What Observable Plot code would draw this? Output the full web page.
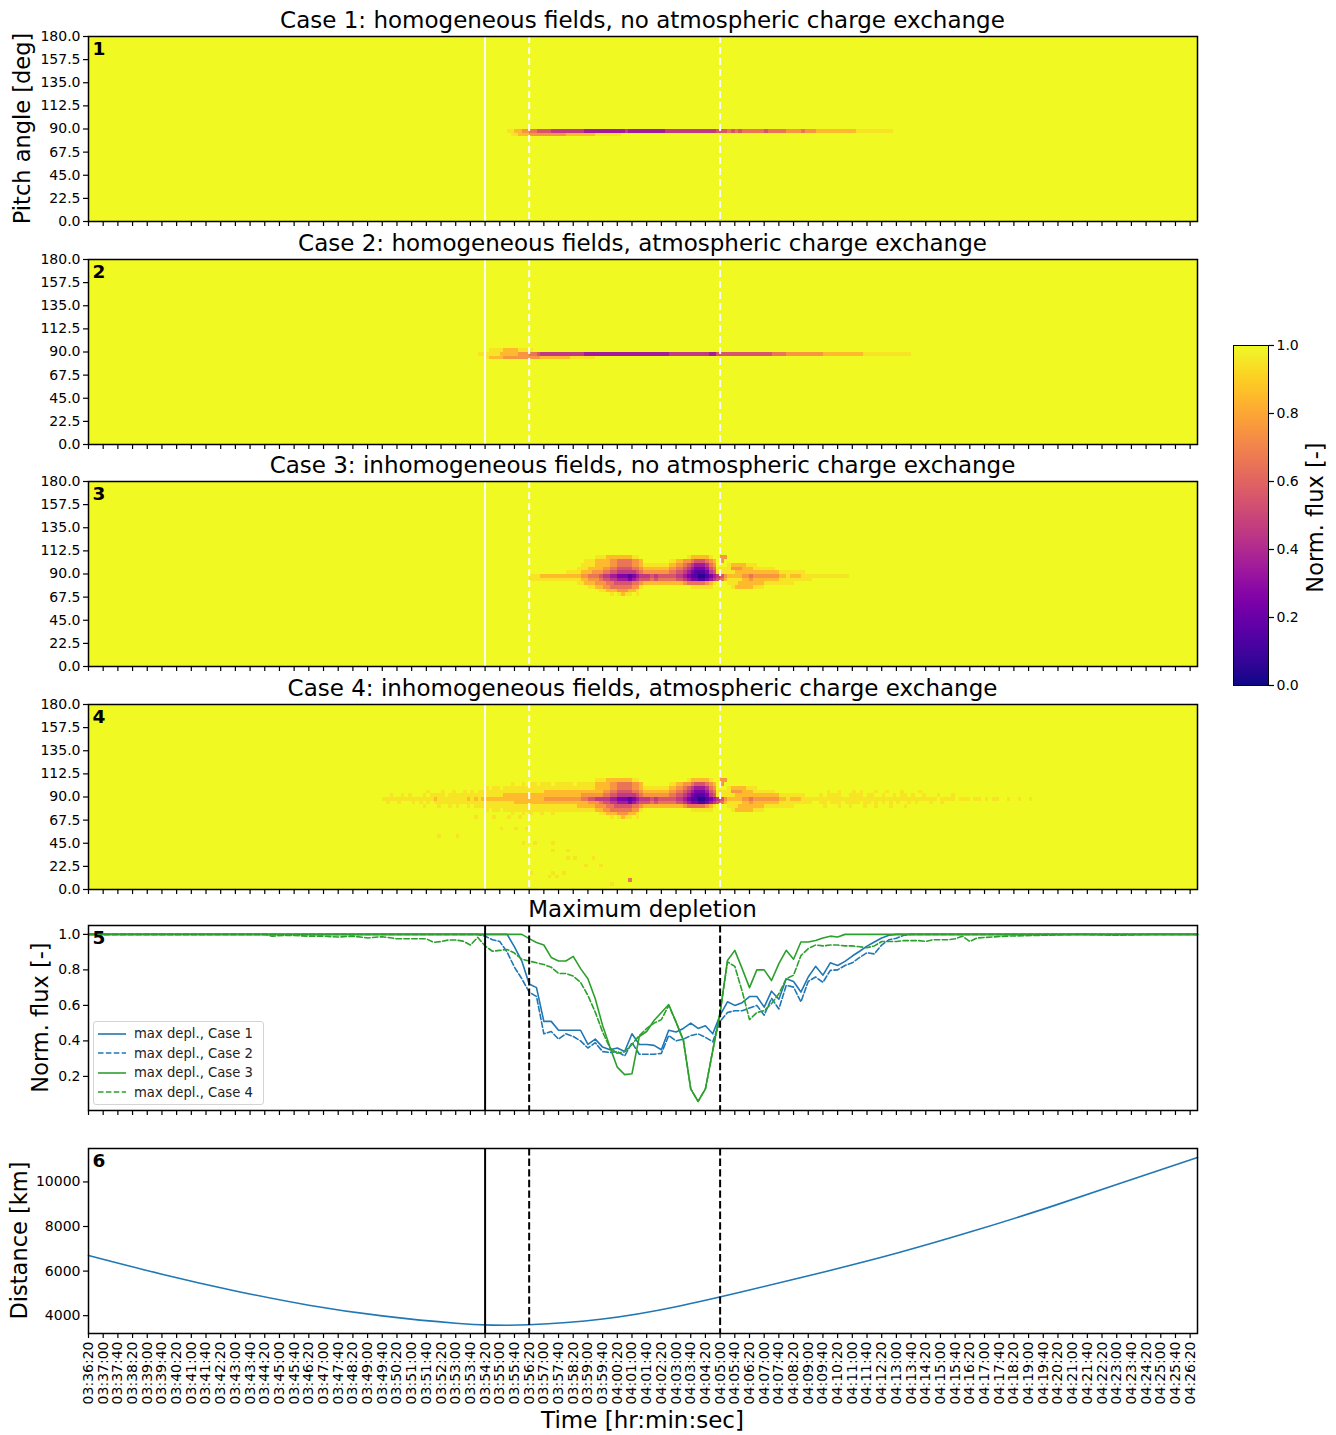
<!DOCTYPE html>
<html><head><meta charset="utf-8">
<script src="https://cdn.jsdelivr.net/npm/d3@7"></script>
<script src="https://cdn.jsdelivr.net/npm/@observablehq/plot@0.6"></script>
<style>
body{margin:0;background:#fff;}
#root{position:relative;width:1336px;height:1435px;overflow:hidden;background:#fff;font-family:"DejaVu Sans",sans-serif;}
#root > *{position:absolute;}
.legend{border:1px solid #d4d4d4;border-radius:3px;background:rgba(255,255,255,0.85);font-size:13.2px;color:#222;}
.legend div{height:19.5px;display:flex;align-items:center;white-space:nowrap;}
.legend svg{margin:0 7px 0 3px;}
</style></head><body><div id="root"></div>
<script>
// ---------- data ----------
const startClock = [3, 36, 20];           // 03:36:20 = time 0
const timeDomain = [0, 3020];             // seconds since start
const timeTicks = d3.range(0, 3001, 40);
const pitchTicks = [0, 22.5, 45, 67.5, 90, 112.5, 135, 157.5, 180];
const fluxTicks = [0.2, 0.4, 0.6, 0.8, 1.0];
const distTicks = [4000, 6000, 8000, 10000];
const colorTicks = [0, 0.2, 0.4, 0.6, 0.8, 1.0];
const eventSolid = [1080];
const eventDashed = [1200, 1720];
const timeBin = 10, pitchBin = 3.6;

const titles = [
  "Case 1: homogeneous fields, no atmospheric charge exchange",
  "Case 2: homogeneous fields, atmospheric charge exchange",
  "Case 3: inhomogeneous fields, no atmospheric charge exchange",
  "Case 4: inhomogeneous fields, atmospheric charge exchange",
  "Maximum depletion"
];

// heat-map rows: [pitch bin index, start time (s), cells of 10 s; digit d -> (d+0.5)/10, "." -> 1.0]
const case1Rows = [
  [24, 1140, "9988776655|5544444444|4333333333|3343333333|3334444444|4444444555|6565666666|5666667777|6777888888|8888899999|99999"],
  [23, 1150, "9988877777|7777788888|8889999999"]
];
const case2Rows = [
  [24, 1060, "9999998888|8777665444|4444444443|3333333333|3333333333|3344444444|4443355555|5555555555|6666777777|7777888888|8888899999|99999999"],
  [23, 1080, "9888877777|7777788888|8889999999"],
  [25, 1090, "9999888899|99"]
];
const case3Rows = [
  [29, 1380, "999888888899|..........|...9888889|..77"],
  [28, 1300, ".....99988|8877666677|8.......99|8877655567|8.7"],
  [27, 1300, "....999988|8877666677|8999999988|7765433346|7...988889|99"],
  [26, 1300, "...9998888|7766555566|7888888877|6654322235|6999977788|8999999"],
  [25, 1300, "9999888777|6655444445|6777777766|5543211124|5999998888|8888888899|99999"],
  [24, 1200, "9998888888|8888776665|4433222123|4445455555|4432110012|3457888877|6777777788|9888999999|9999999"],
  [23, 1200, "9999999999|9999887776|5544333234|5556566666|5543221123|4568999988|7888888899|9999999"],
  [22, 1300, "...9988877|7665555566|7888888888|8876666678|9...999888|8888999999|99"],
  [21, 1300, "......9988|7766666677|9.........|....999999|.....98888|8999"],
  [20, 1390, "99888777889|"],
  [19, 1420, "9.9899.9"]
];
const case4Extra = [
  [25, 800, "..9..9.9..|.9.9999.99|9999999999|9998888888|8888888888|8888777777"],
  [24, 800, "9999999999|9999899999|9998989888|8888888888|8888777777|7777665544"],
  [23, 800, ".9..9...9.|9.9.999999|9999999999|9999998888|8888888888|8888887777"],
  [26, 900, "..9...9..9|..9.9.9999|9999999999|9999888888|8888888888"],
  [22, 900, ".9...9..9.|9..9.99999|9999999999|9999999999|9998888888"],
  [27, 1060, "..9.99.999|9999999999|9999999999|9988"],
  [28, 1150, "9..9.99.99|9.99999.9|99"],
  [21, 1080, "9.99.99999|9999999999|99999999"],
  [20, 1150, "9..9.9..9.|.9"],
  [26, 1990, "..9..9...9|.9...9..9.|..9....9.."],
  [25, 1990, "9.9999..99|99.99..9..|9.99.9..9.|..9...9..."],
  [24, 1990, "9999999999|9999999999|9999999999|99.9999.99|9.99.9.99.|.9..9..9"],
  [23, 1990, "99.999.999|9.99.9.9.9|.9..9.9...|9..9"],
  [22, 1990, ".9...9..9.|..9..9...9|...9"],
  [19, 1050, "9....9...9|..9"], [16, 1120, "9...9..9"], [14, 950, "9....9"],
  [12, 1180, "9..9....9"], [10, 1260, "9...9"], [8, 1300, "9.9....9"],
  [6, 1350, "9...9"], [4, 1200, "9.....9..9"], [3, 1250, "9.9"], [2, 1470, "6"], [1, 1420, "9"]
];
const case4Rows = [...case3Rows, ...case4Extra];

// maximum depletion series: [time (s), normalised flux]
const depl1 = [[0,1],[1140,1],[1160,0.93],[1180,0.85],[1200,0.72],[1220,0.70],[1240,0.51],[1260,0.51],[1280,0.46],[1300,0.46],[1320,0.46],[1340,0.46],[1360,0.38],[1380,0.41],[1400,0.365],[1420,0.35],[1440,0.36],[1460,0.34],[1480,0.44],[1500,0.38],[1520,0.38],[1540,0.375],[1560,0.35],[1580,0.46],[1600,0.45],[1620,0.47],[1640,0.50],[1660,0.47],[1680,0.485],[1700,0.44],[1720,0.545],[1740,0.62],[1760,0.60],[1780,0.615],[1800,0.65],[1820,0.65],[1840,0.59],[1860,0.68],[1880,0.635],[1900,0.75],[1920,0.735],[1940,0.675],[1960,0.76],[1980,0.82],[2000,0.77],[2020,0.84],[2040,0.825],[2060,0.848],[2080,0.878],[2100,0.905],[2120,0.934],[2140,0.957],[2160,0.98],[2180,0.995],[2200,1],[3020,1]];
const depl2 = [[0,1],[1060,1],[1080,0.99],[1100,0.97],[1120,0.96],[1140,0.90],[1160,0.815],[1180,0.75],[1200,0.675],[1220,0.65],[1240,0.44],[1260,0.453],[1280,0.41],[1300,0.44],[1320,0.425],[1340,0.40],[1360,0.36],[1380,0.39],[1400,0.34],[1420,0.335],[1440,0.34],[1460,0.315],[1480,0.39],[1500,0.325],[1520,0.325],[1540,0.325],[1560,0.33],[1580,0.43],[1600,0.40],[1620,0.41],[1640,0.43],[1660,0.44],[1680,0.42],[1700,0.395],[1720,0.51],[1740,0.56],[1760,0.57],[1780,0.57],[1800,0.585],[1820,0.60],[1840,0.545],[1860,0.64],[1880,0.58],[1900,0.713],[1920,0.703],[1940,0.62],[1960,0.735],[1980,0.76],[2000,0.73],[2020,0.797],[2040,0.80],[2060,0.825],[2080,0.84],[2100,0.87],[2120,0.897],[2140,0.89],[2160,0.94],[2180,0.97],[2200,0.978],[2220,0.995],[2240,1],[3020,1]];
const depl3 = [[0,1],[1180,1],[1200,0.976],[1220,0.954],[1240,0.94],[1260,0.87],[1280,0.85],[1300,0.85],[1320,0.876],[1340,0.807],[1360,0.75],[1380,0.637],[1400,0.487],[1420,0.365],[1440,0.252],[1460,0.21],[1480,0.215],[1500,0.425],[1520,0.453],[1540,0.515],[1560,0.56],[1580,0.605],[1600,0.506],[1620,0.403],[1640,0.13],[1660,0.059],[1680,0.13],[1700,0.346],[1720,0.56],[1740,0.853],[1760,0.91],[1780,0.807],[1800,0.70],[1820,0.80],[1840,0.80],[1860,0.74],[1880,0.835],[1900,0.91],[1920,0.86],[1940,0.957],[1960,0.957],[1980,0.966],[2000,0.98],[2020,0.99],[2040,0.985],[2060,1],[3020,1]];
const depl4 = [[0,1],[480,1],[500,0.99],[540,0.995],[600,0.99],[640,0.99],[680,0.985],[720,0.99],[760,0.98],[800,0.987],[840,0.975],[880,0.975],[920,0.975],[940,0.955],[960,0.96],[980,0.968],[1000,0.968],[1020,0.962],[1040,0.94],[1060,0.983],[1080,0.935],[1100,0.905],[1120,0.91],[1140,0.915],[1160,0.895],[1180,0.86],[1200,0.85],[1220,0.84],[1240,0.83],[1260,0.815],[1280,0.78],[1300,0.78],[1320,0.765],[1340,0.73],[1360,0.656],[1380,0.562],[1400,0.45],[1420,0.36],[1440,0.33],[1460,0.34],[1480,0.38],[1500,0.43],[1520,0.47],[1540,0.50],[1560,0.52],[1580,0.60],[1600,0.506],[1620,0.403],[1640,0.13],[1660,0.059],[1680,0.13],[1700,0.346],[1720,0.56],[1740,0.845],[1760,0.82],[1780,0.68],[1800,0.52],[1820,0.56],[1840,0.57],[1860,0.61],[1880,0.665],[1900,0.75],[1920,0.77],[1940,0.88],[1960,0.92],[1980,0.94],[2000,0.935],[2020,0.94],[2040,0.94],[2060,0.935],[2080,0.935],[2100,0.93],[2120,0.925],[2140,0.935],[2160,0.96],[2180,0.96],[2200,0.96],[2220,0.965],[2240,0.965],[2260,0.965],[2280,0.96],[2300,0.97],[2320,0.97],[2340,0.97],[2360,0.975],[2380,0.99],[2400,0.96],[2420,0.98],[2500,0.99],[2600,0.995],[2700,1],[2800,0.995],[2900,1],[3020,1]];
const deplSeries = [
  {label: "max depl., Case 1", data: depl1, color: "#1f77b4", dash: null},
  {label: "max depl., Case 2", data: depl2, color: "#1f77b4", dash: "5.5,2.4"},
  {label: "max depl., Case 3", data: depl3, color: "#2ca02c", dash: null},
  {label: "max depl., Case 4", data: depl4, color: "#2ca02c", dash: "5.5,2.4"}
];

// distance
const distTimes  = [0, 200, 400, 600, 800, 1000, 1100, 1200, 1400, 1600, 1800, 2000, 2200, 2400, 2600, 2800, 3020];
const distValues = [6700, 5860, 5110, 4470, 3990, 3660, 3575, 3590, 3850, 4400, 5150, 5950, 6800, 7750, 8780, 9880, 11100];

// ---------- helpers ----------
const root = document.getElementById("root");
const FONT = "DejaVu Sans";
const L = 88, R = 1197, W = 1336;
const panelTops = [36, 259, 481, 704, 925, 1148];
const PH = 185;
const t0 = startClock[0]*3600 + startClock[1]*60 + startClock[2];
const pad = n => String(n).padStart(2, "0");
const fmtTime = t => { const s = t0 + t; return pad(Math.floor(s/3600)) + ":" + pad(Math.floor(s%3600/60)) + ":" + pad(s%60); };
const colorOpt = {type: "linear", scheme: "plasma", domain: [0, 1]};

function buildCells(rows) {
  const nT = Math.round((timeDomain[1]-timeDomain[0])/timeBin), nP = Math.round(180/pitchBin);
  const grid = Array.from({length: nP}, () => new Array(nT).fill(1));
  for (const [bin, start, str] of rows) {
    const s = str.replace(/\|/g, "");
    const i0 = Math.round((start - timeDomain[0]) / timeBin);
    for (let k = 0; k < s.length; k++) {
      if (s[k] === ".") continue;
      const i = i0 + k;
      if (i >= 0 && i < nT) grid[bin][i] = Math.min(grid[bin][i], (+s[k] + 0.5) / 10);
    }
  }
  const cells = [];
  for (let j = 0; j < nP; j++) for (let i = 0; i < nT; i++)
    cells.push({t: timeDomain[0] + (i + 0.5)*timeBin, p: (j + 0.5)*pitchBin, v: grid[j][i]});
  return {cells, nT, nP};
}

function place(el, left, top) { el.style.left = left + "px"; el.style.top = top + "px"; root.appendChild(el); }

const MT = 4;
function baseOpts(mb) {
  return {
    width: W, height: PH + MT + mb, marginLeft: L, marginRight: W - R, marginTop: MT, marginBottom: mb,
    style: {fontFamily: FONT, fontSize: "14px", color: "black", background: "transparent", overflow: "visible"},
    x: {domain: timeDomain, axis: null, label: null}
  };
}
const xTickAxis = () => Plot.axisX({ticks: timeTicks, tickSize: 5, tickFormat: () => "", label: null, strokeWidth: 1.2});
const panelNumber = n => Plot.text([String(n)], {frameAnchor: "top-left", dx: 4, dy: 5, fontSize: 18.5, fontWeight: "bold"});

// ---------- heat-map panels ----------
[case1Rows, case2Rows, case3Rows, case4Rows].forEach((rows, k) => {
  const {cells, nT, nP} = buildCells(rows);
  const chart = Plot.plot({
    ...baseOpts(12),
    y: {domain: [0, 180], axis: null, label: null},
    color: colorOpt,
    marks: [
      Plot.raster(cells, {x: "t", y: "p", fill: "v", x1: timeDomain[0], x2: timeDomain[1], y1: 0, y2: 180,
        width: nT, height: nP, interpolate: "none", imageRendering: "pixelated"}),
      Plot.ruleX(eventSolid, {stroke: "white", strokeWidth: 2}),
      Plot.ruleX(eventDashed, {stroke: "white", strokeWidth: 2, strokeDasharray: "7,4"}),
      Plot.frame({stroke: "black", strokeWidth: 1.5}),
      Plot.axisY({ticks: pitchTicks, tickFormat: d3.format(".1f"), tickSize: 5, tickPadding: 3, label: null, fontSize: 14, strokeWidth: 1.2}),
      xTickAxis(),
      panelNumber(k + 1)
    ]
  });
  place(chart, 0, panelTops[k] - MT);
});

// ---------- maximum depletion ----------
{
  const marks = [];
  for (const s of deplSeries) {
    marks.push(Plot.line(s.data, {x: d => d[0], y: d => d[1], stroke: s.color, strokeWidth: 1.6,
      strokeDasharray: s.dash ?? undefined}));
  }
  const chart = Plot.plot({
    ...baseOpts(12),
    y: {domain: [0.008, 1.05], axis: null, label: null},
    marks: [
      ...marks,
      Plot.ruleX(eventSolid, {stroke: "black", strokeWidth: 2}),
      Plot.ruleX(eventDashed, {stroke: "black", strokeWidth: 2, strokeDasharray: "7.4,3.2"}),
      Plot.frame({stroke: "black", strokeWidth: 1.5}),
      Plot.axisY({ticks: fluxTicks, tickFormat: d3.format(".1f"), tickSize: 5, tickPadding: 3, label: null, fontSize: 14, strokeWidth: 1.2}),
      xTickAxis(),
      panelNumber(5)
    ]
  });
  place(chart, 0, panelTops[4] - MT);

  const lg = document.createElement("div");
  lg.className = "legend";
  lg.style.width = "169px"; lg.style.padding = "2px 0";
  for (const s of deplSeries) {
    const row = document.createElement("div");
    row.innerHTML = `<svg width="30" height="10"><line x1="1" x2="29" y1="5" y2="5" stroke="${s.color}" stroke-width="1.6" ${s.dash ? `stroke-dasharray="${s.dash}"` : ""}/></svg><span>${s.label}</span>`;
    lg.appendChild(row);
  }
  place(lg, 93, 1021);
}

// ---------- distance ----------
{
  const distData = distTimes.map((t, i) => ({t, d: distValues[i]}));
  const chart = Plot.plot({
    ...baseOpts(100),
    y: {domain: [3200, 11500], axis: null, label: null},
    marks: [
      Plot.line(distData, {x: "t", y: "d", stroke: "#1f77b4", strokeWidth: 1.6, curve: "natural"}),
      Plot.ruleX(eventSolid, {stroke: "black", strokeWidth: 2}),
      Plot.ruleX(eventDashed, {stroke: "black", strokeWidth: 2, strokeDasharray: "7.4,3.2"}),
      Plot.frame({stroke: "black", strokeWidth: 1.5}),
      Plot.axisY({ticks: distTicks, tickFormat: d3.format("d"), tickSize: 5, tickPadding: 3, label: null, fontSize: 14, strokeWidth: 1.2}),
      Plot.axisX({ticks: timeTicks, tickSize: 5, tickPadding: 3, tickFormat: fmtTime, tickRotate: -90, label: null, fontSize: 14, strokeWidth: 1.2}),
      panelNumber(6)
    ]
  });
  place(chart, 0, panelTops[5] - MT);
}

// ---------- colour bar ----------
{
  const cb = Plot.plot({
    width: 136, height: 360, marginLeft: 33, marginRight: 68, marginTop: 5, marginBottom: 15,
    style: {fontFamily: FONT, fontSize: "14px", color: "black", background: "transparent", overflow: "visible"},
    x: {domain: [0, 1], axis: null, label: null},
    y: {domain: [0, 1], axis: null, label: null},
    color: colorOpt,
    marks: [
      Plot.raster({fill: (x, y) => y, x1: 0, x2: 1, y1: 0, y2: 1, width: 1, height: 256}),
      Plot.frame({stroke: "black", strokeWidth: 1}),
      Plot.axisY({anchor: "right", ticks: colorTicks, tickFormat: d3.format(".1f"), tickSize: 5, tickPadding: 3, label: null, fontSize: 14, strokeWidth: 1.2})
    ]
  });
  place(cb, 1200, 340);
}

// ---------- titles & axis labels ----------
{
  const svg = d3.create("svg").attr("width", W).attr("height", 1435)
    .style("font-family", FONT).style("pointer-events", "none").style("left", "0px").style("top", "0px");
  titles.forEach((t, k) => {
    svg.append("text").attr("x", (L + R)/2).attr("y", panelTops[k] - 8).attr("text-anchor", "middle")
      .attr("font-size", 23).text(t);
  });
  const vlabel = (txt, x, y) => svg.append("text").attr("transform", `translate(${x},${y}) rotate(-90)`)
    .attr("text-anchor", "middle").attr("font-size", 22.5).text(txt);
  vlabel("Pitch angle [deg]", 30, panelTops[0] + PH/2);
  vlabel("Norm. flux [-]", 48, panelTops[4] + PH/2);
  vlabel("Distance [km]", 27, panelTops[5] + PH/2);
  vlabel("Norm. flux [-]", 1323, 517.5);
  svg.append("text").attr("x", (L + R)/2).attr("y", 1428).attr("text-anchor", "middle")
    .attr("font-size", 23).text("Time [hr:min:sec]");
  root.appendChild(svg.node());
}
</script></body></html>
